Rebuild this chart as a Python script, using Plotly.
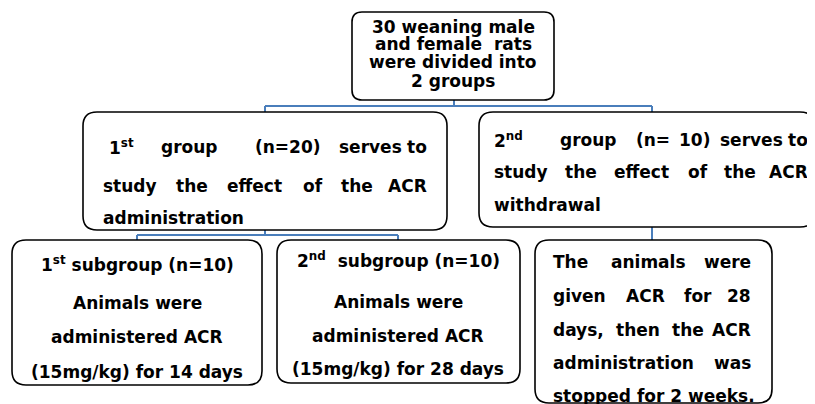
import re
import plotly.graph_objects as go

# ---- content ----
top_lines = ["30 weaning male", "and female  rats", "were divided into", "2 groups"]
group1_lines = ["1<sup>st</sup>   group    (n=20)  serves to",
                "study the effect of the ACR",
                "administration"]
group2_lines = ["2<sup>nd</sup>    group  (n= 10) serves to",
                "study the effect of the ACR",
                "withdrawal"]
sub1_lines = ["1<sup>st</sup> subgroup (n=10)", "Animals were", "administered ACR", "(15mg/kg) for 14 days"]
sub2_lines = ["2<sup>nd</sup>  subgroup (n=10)", "Animals were", "administered ACR", "(15mg/kg) for 28 days"]
withdraw_lines = ["The animals were", "given ACR for 28", "days, then the ACR",
                  "administration was", "stopped for 2 weeks."]

# ---- layout spec (pixels of the 815x404 page) ----
PAGE_W, PAGE_H = 815, 404
BODY = 8  # default page margin before the figure
FONT = "DejaVu Sans"
FS = 17
BLUE = "#4A7EBB"

# DejaVu Sans Bold advance widths (em)
CW = {' ': .348, 'a': .675, 'b': .716, 'c': .593, 'd': .716, 'e': .678, 'f': .435, 'g': .716,
      'h': .712, 'i': .343, 'k': .665, 'l': .343, 'm': 1.042, 'n': .712, 'o': .687, 'p': .716,
      'r': .493, 's': .595, 't': .478, 'u': .712, 'v': .652, 'w': .924, 'y': .652,
      'A': .774, 'C': .734, 'R': .770, 'T': .682, '(': .456, ')': .456, ',': .380, '.': .380,
      '/': .366, '=': .838}
for d in "0123456789":
    CW[d] = .696


def text_width(s, size=FS):
    total = 0.0
    for p in re.split(r'(<sup>.*?</sup>)', s):
        if p.startswith('<sup>'):
            total += sum(CW.get(c, .65) for c in p[5:-6]) * size * 0.7
        else:
            total += sum(CW.get(c, .65) for c in p) * size
    return total


fig = go.Figure()
shapes = []
annotations = []


def rbox(x0, x1, y0, y1, r):
    path = (f"M{x0+r},{y0} L{x1-r},{y0} Q{x1},{y0} {x1},{y0+r} "
            f"L{x1},{y1-r} Q{x1},{y1} {x1-r},{y1} L{x0+r},{y1} "
            f"Q{x0},{y1} {x0},{y1-r} L{x0},{y0+r} Q{x0},{y0} {x0+r},{y0} Z")
    shapes.append(dict(type="path", path=path, xref="x", yref="y",
                       line=dict(color="black", width=1.6), fillcolor="white", layer="below"))


def seg(x0, y0, x1, y1):
    shapes.append(dict(type="line", x0=x0, y0=y0, x1=x1, y1=y1, xref="x", yref="y",
                       line=dict(color=BLUE, width=2), layer="below"))


def put(text, x, y, anchor):
    annotations.append(dict(text=text, x=x, y=y, xref="x", yref="y", showarrow=False,
                            xanchor=anchor, yanchor="middle",
                            font=dict(family=FONT, size=FS, color="black", weight="bold")))


def centered(lines, xc, ys):
    for t, y in zip(lines, ys):
        put(t, xc, y, "center")


def justified(lines, x0, x1, ys, first_x0=None, last_left=True):
    for i, (t, y) in enumerate(zip(lines, ys)):
        lx0 = first_x0 if (i == 0 and first_x0 is not None) else x0
        if last_left and i == len(lines) - 1:
            put(t, lx0, y, "left")
            continue
        toks = t.split(' ')
        words = [w for w in toks if w]
        nsp = len(toks) - 1
        gap = (x1 - lx0 - sum(text_width(w) for w in words)) / max(nsp, 1)
        x = lx0
        for k, tok in enumerate(toks):
            if tok:
                if k == len(toks) - 1:
                    put(tok, x1, y, "right")
                else:
                    put(tok, x, y, "left")
                x += text_width(tok)
            if k < len(toks) - 1:
                x += gap


# connectors
seg(454, 100, 454, 106)
seg(265, 106, 652, 106)
seg(265, 106, 265, 112)
seg(652, 106, 652, 112)
seg(265, 230, 265, 235)
seg(137, 235, 398, 235)
seg(137, 235, 137, 240)
seg(398, 235, 398, 240)
seg(652, 227, 652, 240)

# boxes
rbox(352, 554, 12, 100, 10)
rbox(83, 447, 112, 230, 14)
rbox(479, 814, 112, 227, 14)
rbox(12, 262, 240, 385, 14)
rbox(277, 520, 240, 383, 14)
rbox(535, 772, 240, 403, 14)

# texts
centered(top_lines, 453, [27, 44, 62, 80.5])
justified(group1_lines, 101, 429, [147, 186, 218], first_x0=107)
justified(group2_lines, 492, 810, [140, 172, 205])
centered(sub1_lines, 137, [264, 303, 337, 372])
centered(sub2_lines, 398, [260, 302, 336, 369])
justified(withdraw_lines, 551, 753, [262, 296, 330, 363, 396], last_left=True)

fig.update_layout(
    width=PAGE_W - BODY, height=PAGE_H - BODY,
    margin=dict(l=0, r=0, t=0, b=0),
    paper_bgcolor="white", plot_bgcolor="white",
    xaxis=dict(range=[BODY, PAGE_W], visible=False, fixedrange=True),
    yaxis=dict(range=[PAGE_H, BODY], visible=False, fixedrange=True),
    shapes=shapes, annotations=annotations, showlegend=False,
)
fig.write_html("out.html")
